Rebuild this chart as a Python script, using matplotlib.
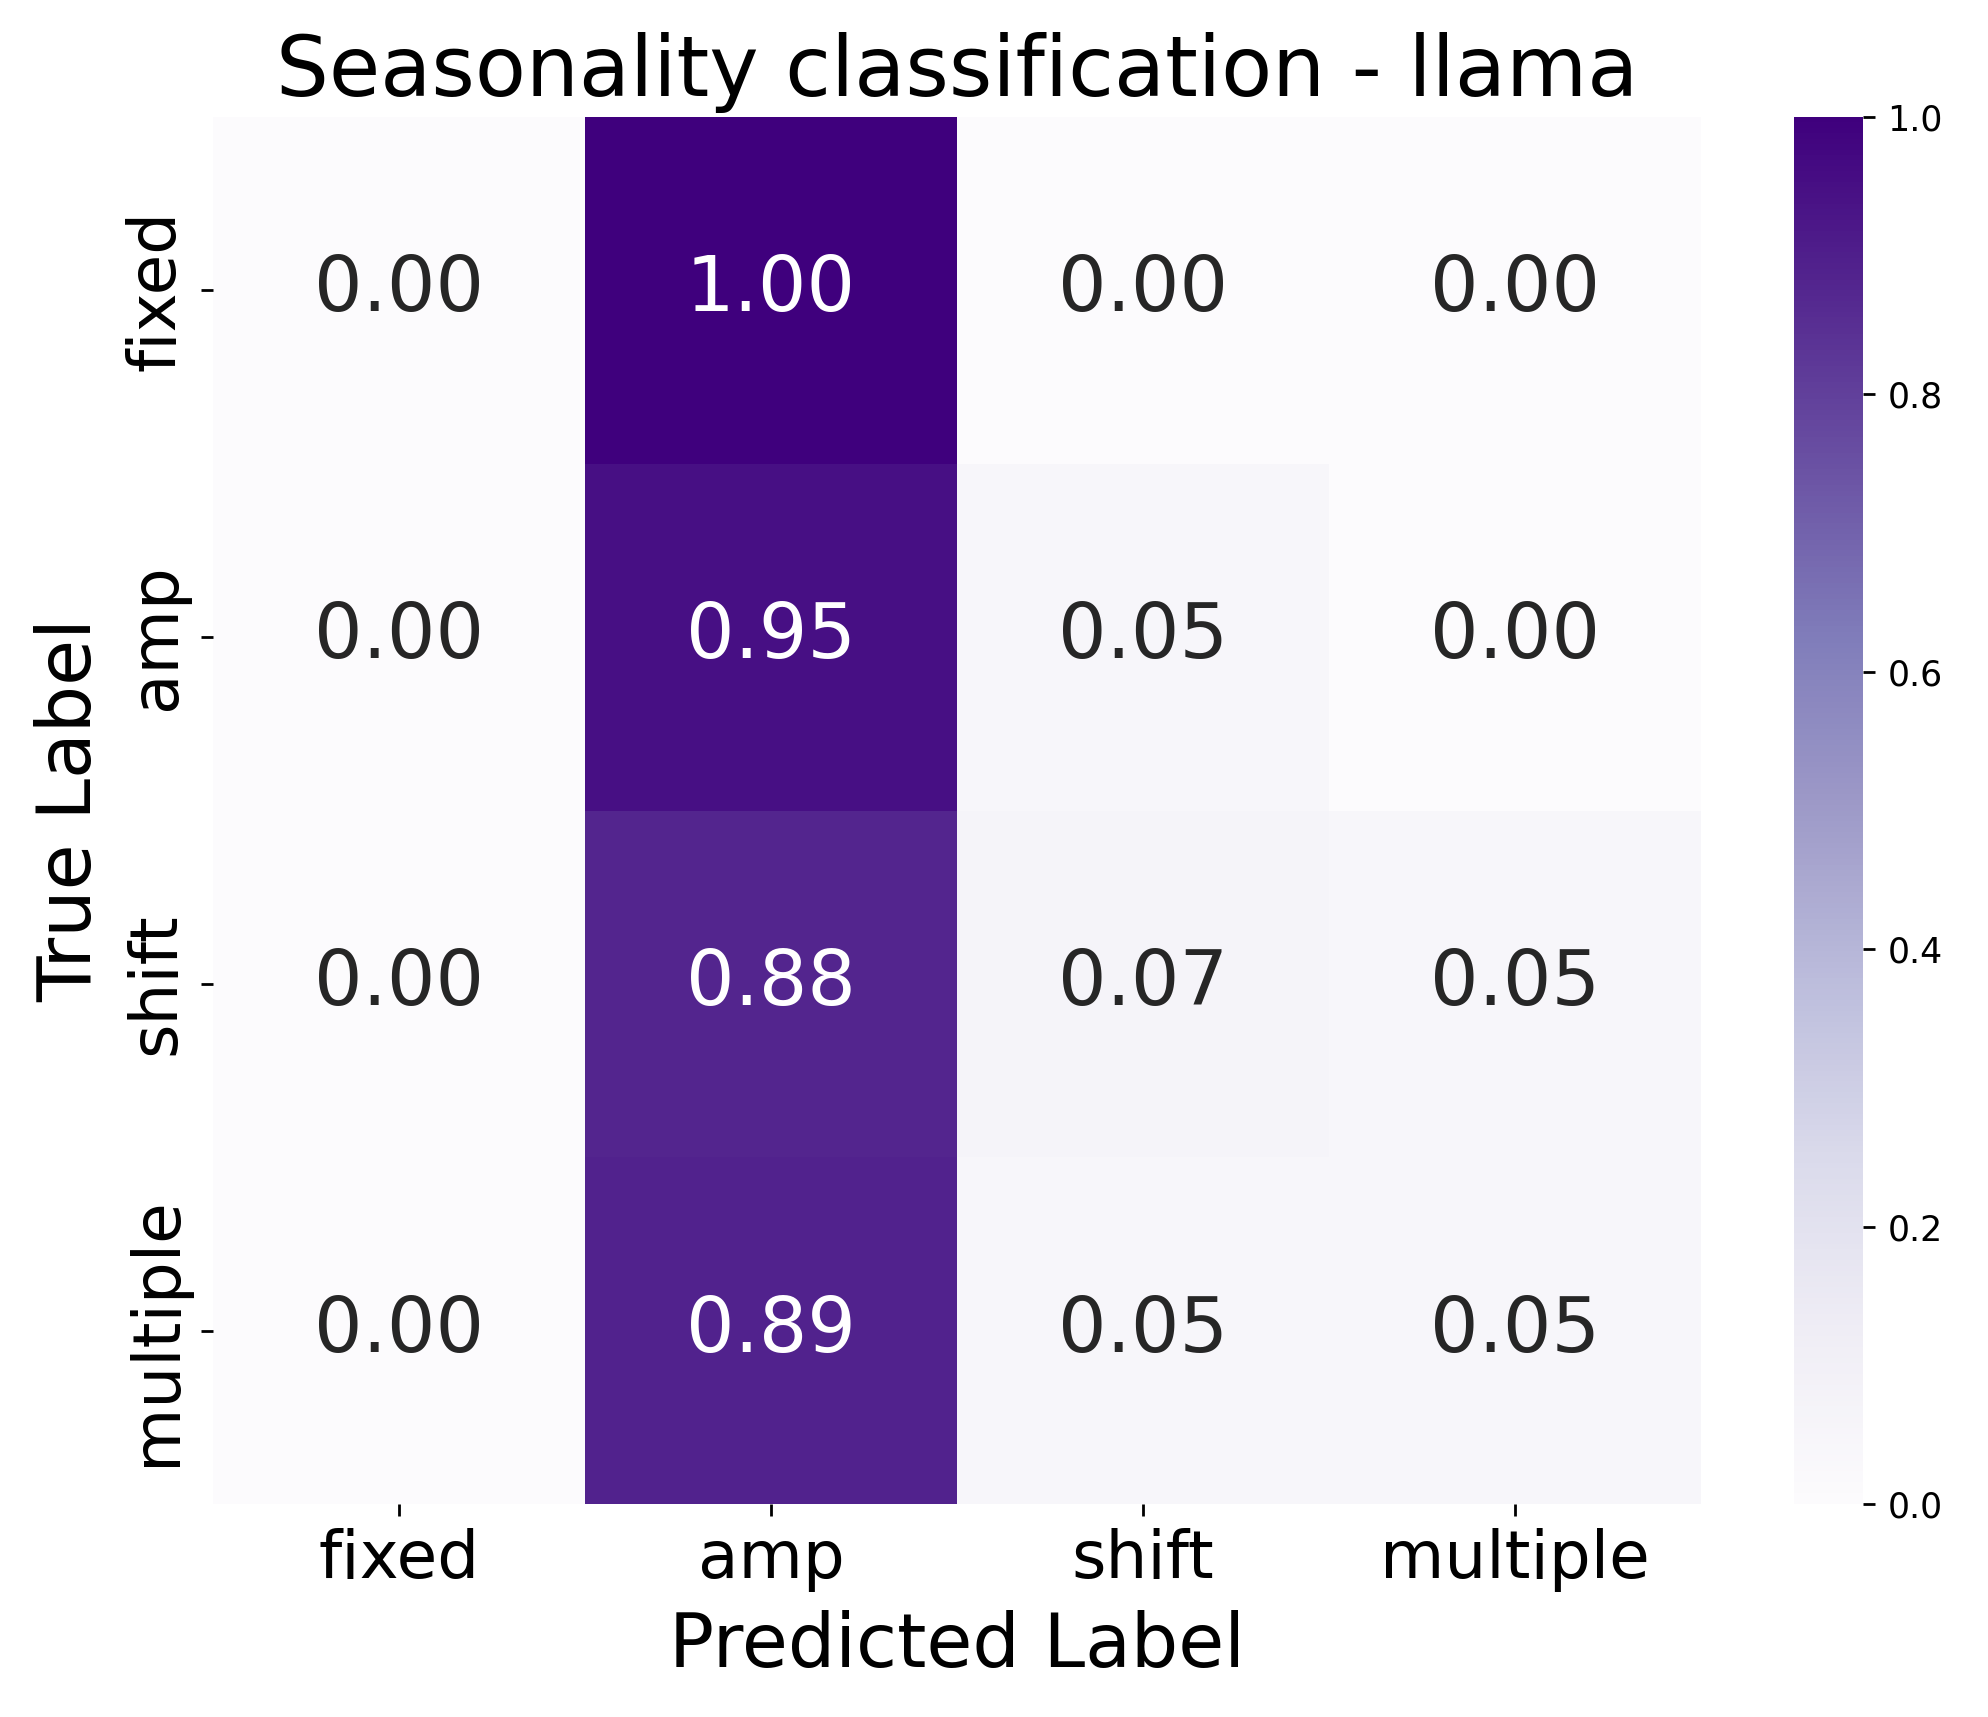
import numpy as np
import matplotlib
matplotlib.use("Agg")
import matplotlib.pyplot as plt
import seaborn as sns

labels = ["fixed", "amp", "shift", "multiple"]
row_fixed = [0.00, 1.00, 0.00, 0.00]
row_amp = [0.00, 0.95, 0.05, 0.00]
row_shift = [0.00, 0.88, 0.07, 0.05]
row_multiple = [0.00, 0.89, 0.05, 0.05]

cm = np.array([row_fixed, row_amp, row_shift, row_multiple])

W, H = 1988, 1717
fig = plt.figure(figsize=(W / 250, H / 250), dpi=250)
ax = fig.add_axes([213 / W, 1 - 1504 / H, (1701 - 213) / W, (1504 - 117) / H])
cax = fig.add_axes([1794 / W, 1 - 1504 / H, (1863 - 1794) / W, (1504 - 117) / H])

sns.heatmap(cm, annot=True, fmt=".2f", cmap="Purples", ax=ax, cbar_ax=cax,
            xticklabels=labels, yticklabels=labels, annot_kws={"size": 22})
ax.set_title("Seasonality classification - llama", fontsize=24)
ax.set_xlabel("Predicted Label", fontsize=21.5, labelpad=5)
ax.set_ylabel("True Label", fontsize=21.5, labelpad=5)
ax.tick_params(axis="both", labelsize=19)
cax.tick_params(labelsize=10)

fig.savefig("out.png", dpi=250)
